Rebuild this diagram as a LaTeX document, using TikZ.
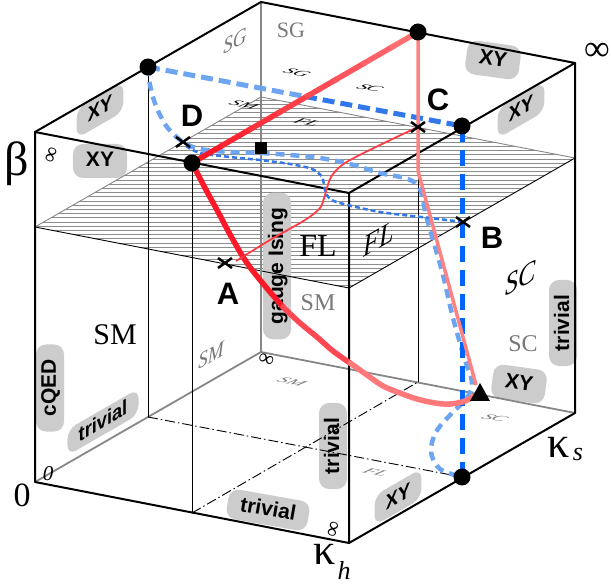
\documentclass[tikz,border=0pt]{standalone}
\usepackage{fontspec}
\setmainfont{Liberation Serif}
\setsansfont{Liberation Sans}
\usetikzlibrary{calc}
\definecolor{boxgray}{RGB}{204,204,204}
\definecolor{redA}{RGB}{255,25,40}
\definecolor{pinkL}{RGB}{255,120,122}
\definecolor{pinkP}{RGB}{255,130,130}
\definecolor{redT}{RGB}{255,60,70}
\definecolor{blueL}{RGB}{110,165,240}
\definecolor{blueM}{RGB}{50,120,235}
\definecolor{blueD}{RGB}{0,100,255}
\definecolor{hatchc}{RGB}{140,140,140}
\definecolor{edgegray}{RGB}{135,135,135}
\definecolor{labgray}{RGB}{120,120,120}
\begin{document}
\begin{tikzpicture}[x=1pt,y=-1pt,
  edge/.style={line width=2pt,black,line join=round},
  hidedge/.style={line width=1.8pt,edgegray},
  midline/.style={line width=0.9pt,black},
  dashdotline/.style={line width=0.9pt,black,dash pattern=on 10pt off 3pt on 1.5pt off 3pt},
  lbox/.style={fill=boxgray,rounded corners=10pt,inner xsep=13pt,inner ysep=8pt,text height=15pt,text depth=3pt,font=\sffamily\bfseries\fontsize{21}{21}\selectfont},
  vbox/.style={lbox,inner xsep=15pt,inner ysep=5pt,rotate=90},
  onside/.style={cm={0.867,0.5,0,1,(0,0)}},
  onfloor/.style={cm={0.982,-0.19,0.6,0.35,(0,0)}},
  letter/.style={font=\sffamily\bfseries\fontsize{31}{31}\selectfont,inner sep=0pt},
  bigserif/.style={font=\fontsize{30}{30}\selectfont,inner sep=0pt},
  grayserif/.style={font=\fontsize{24}{24}\selectfont,inner sep=0pt,text=labgray},
  floorlab/.style={font=\itshape\fontsize{19}{19}\selectfont,inner sep=0pt,onfloor},
  infty/.style={font=\fontsize{22}{22}\selectfont,inner sep=0pt},
  crossmark/.style={line width=2.5pt,black},
  dot/.style={fill=black}
]
\useasboundingbox (0,0) rectangle (611,585);
% cube corners
\coordinate (O) at (35,482);
\coordinate (FBR) at (349,543);
\coordinate (FTL) at (35,132);
\coordinate (FTR) at (349,193);
\coordinate (BBL) at (261,352);
\coordinate (BBR) at (575,413);
\coordinate (BTL) at (261,2);
\coordinate (BTR) at (575,63);
% critical plane
\coordinate (PFL) at (35,227);
\coordinate (PFR) at (349,288);
\coordinate (PBR) at (575,158);
\coordinate (PBL) at (261,97);
% mid points
\coordinate (mL1) at (148,67);
\coordinate (mL0) at (148,417);
\coordinate (mF1) at (192,163);
\coordinate (mF0) at (192,513);
\coordinate (mB1) at (418,32);
\coordinate (mB0) at (418,382);
\coordinate (mR1) at (462,126);
\coordinate (mR0) at (462,477);
\coordinate (pA) at (225,263);
\coordinate (pB) at (463,222);
\coordinate (pC) at (418,127);
\coordinate (pD) at (183,142);
\coordinate (pT) at (480,393);
\coordinate (pS) at (261,148);
\coordinate (bend) at (418,171);

% hatching
\begin{scope}
  \clip (PFL) -- (PFR) -- (PBR) -- (PBL) -- cycle;
  \foreach \yy in {96,100.2,...,292} \draw[hatchc,line width=0.8pt] (20,\yy) -- (590,\yy);
\end{scope}

% grey label boxes
\node[lbox,onside,inner ysep=6pt] (bxy1) at (100,110) {XY};
\node[lbox] (bxy2) at (100,161) {XY};
\node[lbox,rotate=-8] (bxy3) at (493,60) {XY};
\node[lbox,onside,inner ysep=6pt] (bxy4) at (521,110) {XY};
\node[lbox,rotate=-8] (bxy5) at (519,384) {XY};
\node[lbox,onside,inner ysep=6pt] (bxy6) at (398,497) {XY};
\node[vbox] (bqed) at (50,388) {cQED};
\node[lbox,onside,inner ysep=4pt] (btr1) at (103,422) {trivial};
\node[lbox,rotate=-10,inner ysep=6pt] (btr2) at (268,510) {trivial};
\node[vbox] (btr3) at (333,446) {trivial};
\node[vbox] (btr4) at (563,323) {trivial};
\node[vbox] (bgi) at (277,266) {gauge Ising};

% plane edges
\draw[midline] (PFL) -- (PFR) -- (PBR);
\draw[line width=0.9pt,edgegray] (PFL) -- (PBL) -- (PBR);

% hidden edges
\draw[hidedge] (O) -- (BBL) -- (BBR);
\draw[hidedge] (BBL) -- (BTL);

% mid lines
\draw[midline] (mL1) -- (mL0);
\draw[midline] (mF1) -- (mF0);
\draw[midline] (mB1) -- (mB0);
\draw[dashdotline] (mL0) -- (mR0);
\draw[dashdotline] (mF0) -- (mB0);

% visible edges
\draw[edge] (O) -- (FBR) -- (FTR) -- (FTL) -- cycle;
\draw[edge] (FTL) -- (BTL) -- (BTR) -- (FTR);
\draw[edge] (FBR) -- (BBR) -- (BTR);

% texts
\node[font=\fontsize{48}{48}\selectfont,inner sep=0pt] (tbeta) at (17,164) {β};
\node[font=\fontsize{34}{34}\selectfont,inner sep=0pt] (tzero) at (22,495) {0};
\node[font=\fontsize{36}{36}\selectfont,inner sep=0pt] (tinf) at (597,52) {∞};
\node[font=\fontsize{44}{44}\selectfont,inner sep=0pt] (tkh) at (325,554) {κ};
\node[font=\itshape\fontsize{26}{26}\selectfont,inner sep=0pt] (tkhs) at (344,570) {h};
\node[font=\fontsize{44}{44}\selectfont,inner sep=0pt] (tks) at (559,447) {κ};
\node[font=\itshape\fontsize{26}{26}\selectfont,inner sep=0pt] (tkss) at (578,455) {s};
\node[infty,rotate=70] (i1) at (52,155) {∞};
\node[infty,rotate=-20] (i2) at (266,360) {∞};
\node[infty,rotate=75] (i3) at (334,530) {∞};
\node[font=\itshape\fontsize{21}{21}\selectfont,inner sep=0pt] (z1) at (48,474) {0};

\node[bigserif] (tSM) at (115,335) {SM};
\node[bigserif,font=\fontsize{32}{32}\selectfont] (tFL) at (318,246) {FL};
\node[bigserif,font=\itshape\fontsize{30}{30}\selectfont,onside] (tFL2) at (379,239) {FL};
\node[bigserif,font=\itshape\fontsize{30}{30}\selectfont,onside] (tSC) at (521,278) {SC};
\node[grayserif] (gSC) at (523,344) {SC};
\node[grayserif] (gSM) at (318,303) {SM};
\node[grayserif,font=\itshape\fontsize{22}{22}\selectfont,onside] (gSM2) at (211,355) {SM};
\node[grayserif,font=\itshape\fontsize{22}{22}\selectfont,onside] (gSG) at (235,41) {SG};
\node[grayserif,font=\fontsize{22}{22}\selectfont] (gSG2) at (291,30) {SG};
\node[floorlab] (fSG) at (297,73) {SG};
\node[floorlab] (fSC) at (370,88) {SC};
\node[floorlab] (fSM) at (244,105) {SM};
\node[floorlab] (fFL) at (307,122) {FL};
\node[floorlab,text=labgray] (fSM2) at (292,382) {SM};
\node[floorlab,text=labgray] (fFL2) at (376,472) {FL};
\node[floorlab,text=labgray] (fSC2) at (495,418) {SC};

\node[letter] (lA) at (228,294) {A};
\node[letter] (lB) at (492,238) {B};
\node[letter] (lC) at (438,100) {C};
\node[letter] (lD) at (192,116) {D};

% blue lines
\draw[blueL,line width=4.5pt,dash pattern=on 9pt off 6pt] plot[smooth,tension=0.55] coordinates {
 (mL1) (150,85) (156,106) (167,127) (pD) (200,149) (230,152) (260,153) (290,155) (320,158) (350,164) (380,173) (408,179) (420,189) (426,215) (433,240) (443,275) (453,318) (465,360) (472,382) (467,398) (452,413) (436,432) (431,452) (440,469) (mR0)};
\draw[blueM,line width=2.5pt,dash pattern=on 5pt off 3pt] plot[smooth,tension=0.5] coordinates {
 (186,146) (200,153) (230,157) (260,160) (290,164) (312,169) (322,177) (325,190) (329,198) (340,203) (380,212) (430,218) (pB)};
\draw[blueL,line width=5pt,dash pattern=on 12pt off 6pt] (mL1) -- ($(mL1)!0.5!(mR1)$);
\draw[blueM,line width=5pt,dash pattern=on 12pt off 6pt] ($(mL1)!0.5!(mR1)$) -- (mR1);
\draw[blueD,line width=5pt,dash pattern=on 16pt off 8pt] (mR1) -- (mR0);

% red lines
\foreach \i in {0,...,7}{
  \pgfmathtruncatemacro\cc{100-\i*13}
  \draw[line width=5.5pt,redA!\cc!pinkL] ($(mF1)!{\i/8}!(mB1)$) -- ($(mF1)!{min(1,(\i+1.15)/8)}!(mB1)$);
}
\draw[line width=5.5pt,redA,line cap=round] plot[smooth,tension=0.6] coordinates {(mF1) (205,188) (217,210) (232,238) (247,263) (265,286) (283,307)};
\draw[line width=5.5pt,redA!50!pinkL,line cap=round] plot[smooth,tension=0.6] coordinates {(283,307) (300,323) (317,337) (333,351) (350,363)};
\draw[line width=5.5pt,pinkL,line cap=round] plot[smooth,tension=0.6] coordinates {(350,363) (367,375) (383,386) (400,393) (417,399) (435,403) (450,404) (465,401) (pT)};
\draw[line width=3.5pt,pinkP] (mB1) -- (bend) -- (476,385);
\draw[line width=1.8pt,redT] plot[smooth,tension=0.5] coordinates {(pC) (380,145) (345,163) (331,177) (325,195) (320,208) (305,220) (270,240) (236,261)};

% markers
\fill[dot] (mL1) circle (8.5);
\fill[dot] (mF1) circle (8.5);
\fill[dot] (mB1) circle (8.5);
\fill[dot] (mR1) circle (8.5);
\fill[dot] (mR0) circle (8.5);
\foreach \p in {pA,pB,pC,pD}
  \draw[crossmark] ($(\p)+(-7,-5)$) -- ($(\p)+(7,5)$) ($(\p)+(-7,5)$) -- ($(\p)+(7,-5)$);
\fill[black] ($(pS)+(-6,-6)$) rectangle ($(pS)+(6,6)$);
\fill[black] ($(pT)+(-10,8)$) -- ($(pT)+(10,8)$) -- ($(pT)+(0,-10)$) -- cycle;
\end{tikzpicture}
\end{document}
